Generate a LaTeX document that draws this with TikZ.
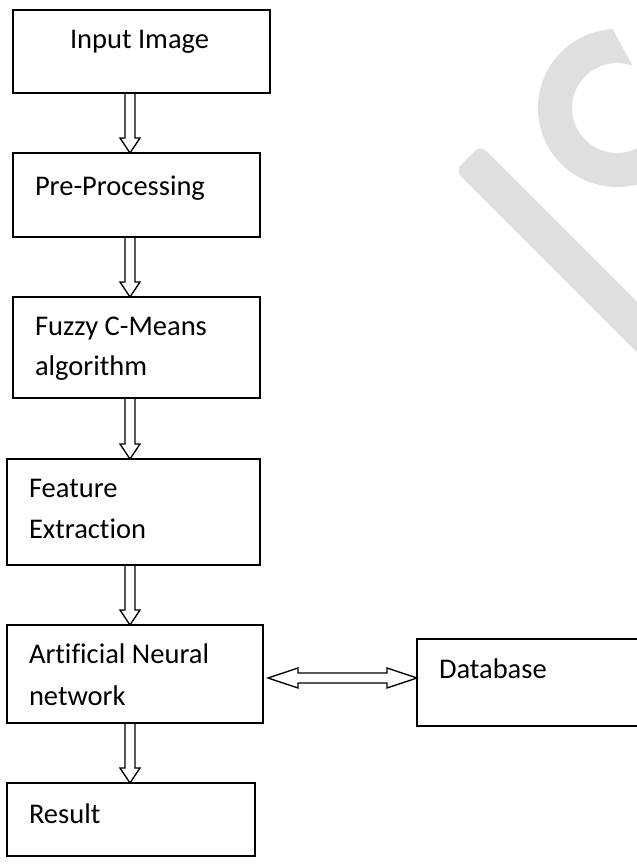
\documentclass[tikz,border=0pt]{standalone}
\usepackage{fontspec}
\setmainfont[Ligatures=NoCommon]{Carlito}
\usetikzlibrary{calc}
\definecolor{wmgray}{RGB}{223,223,223}
\begin{document}
\begin{tikzpicture}[x=1pt,y=1pt,
  box/.style={draw, line width=1.3pt, inner sep=0pt, outer sep=0pt},
  lbl/.style={anchor=base west, inner sep=0pt, outer sep=0pt,
              font=\fontsize{28.5}{40}\selectfont},
  hollowdown/.style={draw, line width=1.3pt, line join=miter,
    to path={($(\tikztostart)+(-5,0)$) -- ($(\tikztotarget)+(-5,15)$)
      -- ($(\tikztotarget)+(-10,15)$) -- (\tikztotarget)
      -- ($(\tikztotarget)+(10,15)$) -- ($(\tikztotarget)+(5,15)$)
      -- ($(\tikztostart)+(5,0)$)}},
  hollowboth/.style={draw, line width=1.3pt, line join=miter,
    to path={(\tikztostart) -- ($(\tikztostart)+(30,10)$)
      -- ($(\tikztostart)+(30,5)$) -- ($(\tikztotarget)+(-30,5)$)
      -- ($(\tikztotarget)+(-30,10)$) -- (\tikztotarget)
      -- ($(\tikztotarget)+(-30,-10)$) -- ($(\tikztotarget)+(-30,-5)$)
      -- ($(\tikztostart)+(30,-5)$) -- ($(\tikztostart)+(30,-10)$) -- cycle}},
]
\useasboundingbox (0,0) rectangle (637,-865);
\clip (0,0) rectangle (637,-865);

% light grey logo mark in the upper right
\coordinate (lc) at (617,-108);
\fill[wmgray] ($(lc)+(93:79)$) arc[start angle=93, end angle=300, radius=79]
  -- ($(lc)+(300:45)$) arc[start angle=300, end angle=70, radius=45] -- cycle;
\fill[wmgray, rounded corners=8pt, rotate around={-45:(468,-158)}]
  (468,-176) rectangle (900,-140);

% process boxes
\node[box, minimum width=257, minimum height=83]  (inp) at (141.5,-51.5) {};
\node[box, minimum width=247, minimum height=84]  (pre) at (136.5,-195) {};
\node[box, minimum width=247, minimum height=101] (fcm) at (136.5,-347.5) {};
\node[box, minimum width=253, minimum height=106] (fea) at (133.5,-512) {};
\node[box, minimum width=256, minimum height=98]  (ann) at (135,-674) {};
\node[box, minimum width=248, minimum height=73]  (res) at (131,-819.5) {};
\node[box, minimum width=224, minimum height=87]  (db)  at (529,-682.5) {};

% box labels
\node[lbl] (inp-t)  at (70,-48)  {Input Image};
\node[lbl] (pre-t)  at (35,-195) {Pre-Processing};
\node[lbl] (fcm-t1) at (35,-335) {Fuzzy C-Means};
\node[lbl] (fcm-t2) at (35,-375) {algorithm};
\node[lbl] (fea-t1) at (29,-497) {Feature};
\node[lbl] (fea-t2) at (29,-538) {Extraction};
\node[lbl] (ann-t1) at (29,-663) {Artificial Neural};
\node[lbl] (ann-t2) at (29,-705) {network};
\node[lbl] (res-t)  at (29,-823) {Result};
\node[lbl] (db-t)   at (439,-678) {Database};

% hollow arrows
\coordinate (ax) at (130,0);
\coordinate (hy) at (0,-678);
\draw[hollowdown] (inp.south -| ax) to (pre.north -| ax);
\draw[hollowdown] (pre.south -| ax) to (fcm.north -| ax);
\draw[hollowdown] (fcm.south -| ax) to (fea.north -| ax);
\draw[hollowdown] (fea.south -| ax) to (ann.north -| ax);
\draw[hollowdown] (ann.south -| ax) to (res.north -| ax);
\draw[hollowboth] ($(ann.east |- hy)+(5,0)$) to (db.west |- hy);
\end{tikzpicture}
\end{document}
